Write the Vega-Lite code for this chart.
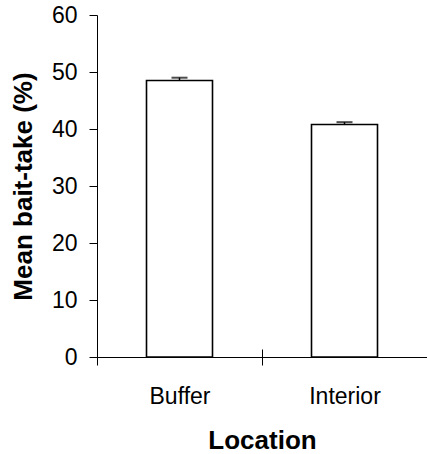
{
  "$schema": "https://vega.github.io/schema/vega-lite/v6.json",
  "width": 330,
  "height": 342,
  "autosize": {"type": "none"},
  "padding": {"left": 97, "top": 15, "right": 0, "bottom": 97},
  "background": "white",
  "config": {
    "view": {"stroke": null},
    "font": "Liberation Sans",
    "axis": {
      "domainColor": "black",
      "tickColor": "black",
      "labelColor": "black",
      "titleColor": "black",
      "grid": false,
      "labelFont": "Liberation Sans",
      "titleFont": "Liberation Sans",
      "labelFontSize": 23,
      "titleFontSize": 26,
      "titleFontWeight": "bold",
      "tickSize": 8,
      "domainWidth": 1,
      "tickWidth": 1
    }
  },
  "data": {
    "values": [
      {"location": "Buffer", "mean": 48.5, "upper": 49.0},
      {"location": "Interior", "mean": 40.8, "upper": 41.2}
    ]
  },
  "resolve": {"axis": {"x": "independent"}},
  "layer": [
    {
      "mark": {"type": "rule", "color": "black", "strokeWidth": 1.5},
      "encoding": {
        "x": {
          "field": "location",
          "type": "nominal",
          "sort": ["Buffer", "Interior"],
          "scale": {"paddingInner": 0, "paddingOuter": 0},
          "axis": {
            "orient": "bottom",
            "offset": -8,
            "domain": false,
            "labels": false,
            "title": null,
            "tickBand": "extent"
          }
        },
        "y": {"field": "mean", "type": "quantitative"},
        "y2": {"field": "upper"}
      }
    },
    {
      "mark": {"type": "tick", "color": "black", "thickness": 2, "size": 16, "orient": "horizontal"},
      "encoding": {
        "x": {"field": "location", "type": "nominal", "sort": ["Buffer", "Interior"], "axis": null},
        "y": {"field": "upper", "type": "quantitative"}
      }
    },
    {
      "mark": {"type": "bar", "fill": "white", "stroke": "black", "strokeWidth": 1.6, "width": {"band": 0.4}},
      "encoding": {
        "x": {
          "field": "location",
          "type": "nominal",
          "sort": ["Buffer", "Interior"],
          "axis": {
            "orient": "bottom",
            "title": "Location",
            "labelAngle": 0,
            "tickBand": "extent",
            "labelPadding": 20,
            "titlePadding": 19
          }
        },
        "y": {
          "field": "mean",
          "type": "quantitative",
          "scale": {"domain": [0, 60], "nice": false},
          "axis": {
            "title": "Mean bait-take (%)",
            "values": [0, 10, 20, 30, 40, 50, 60],
            "labelPadding": 12,
            "titlePadding": 15
          }
        }
      }
    }
  ]
}
